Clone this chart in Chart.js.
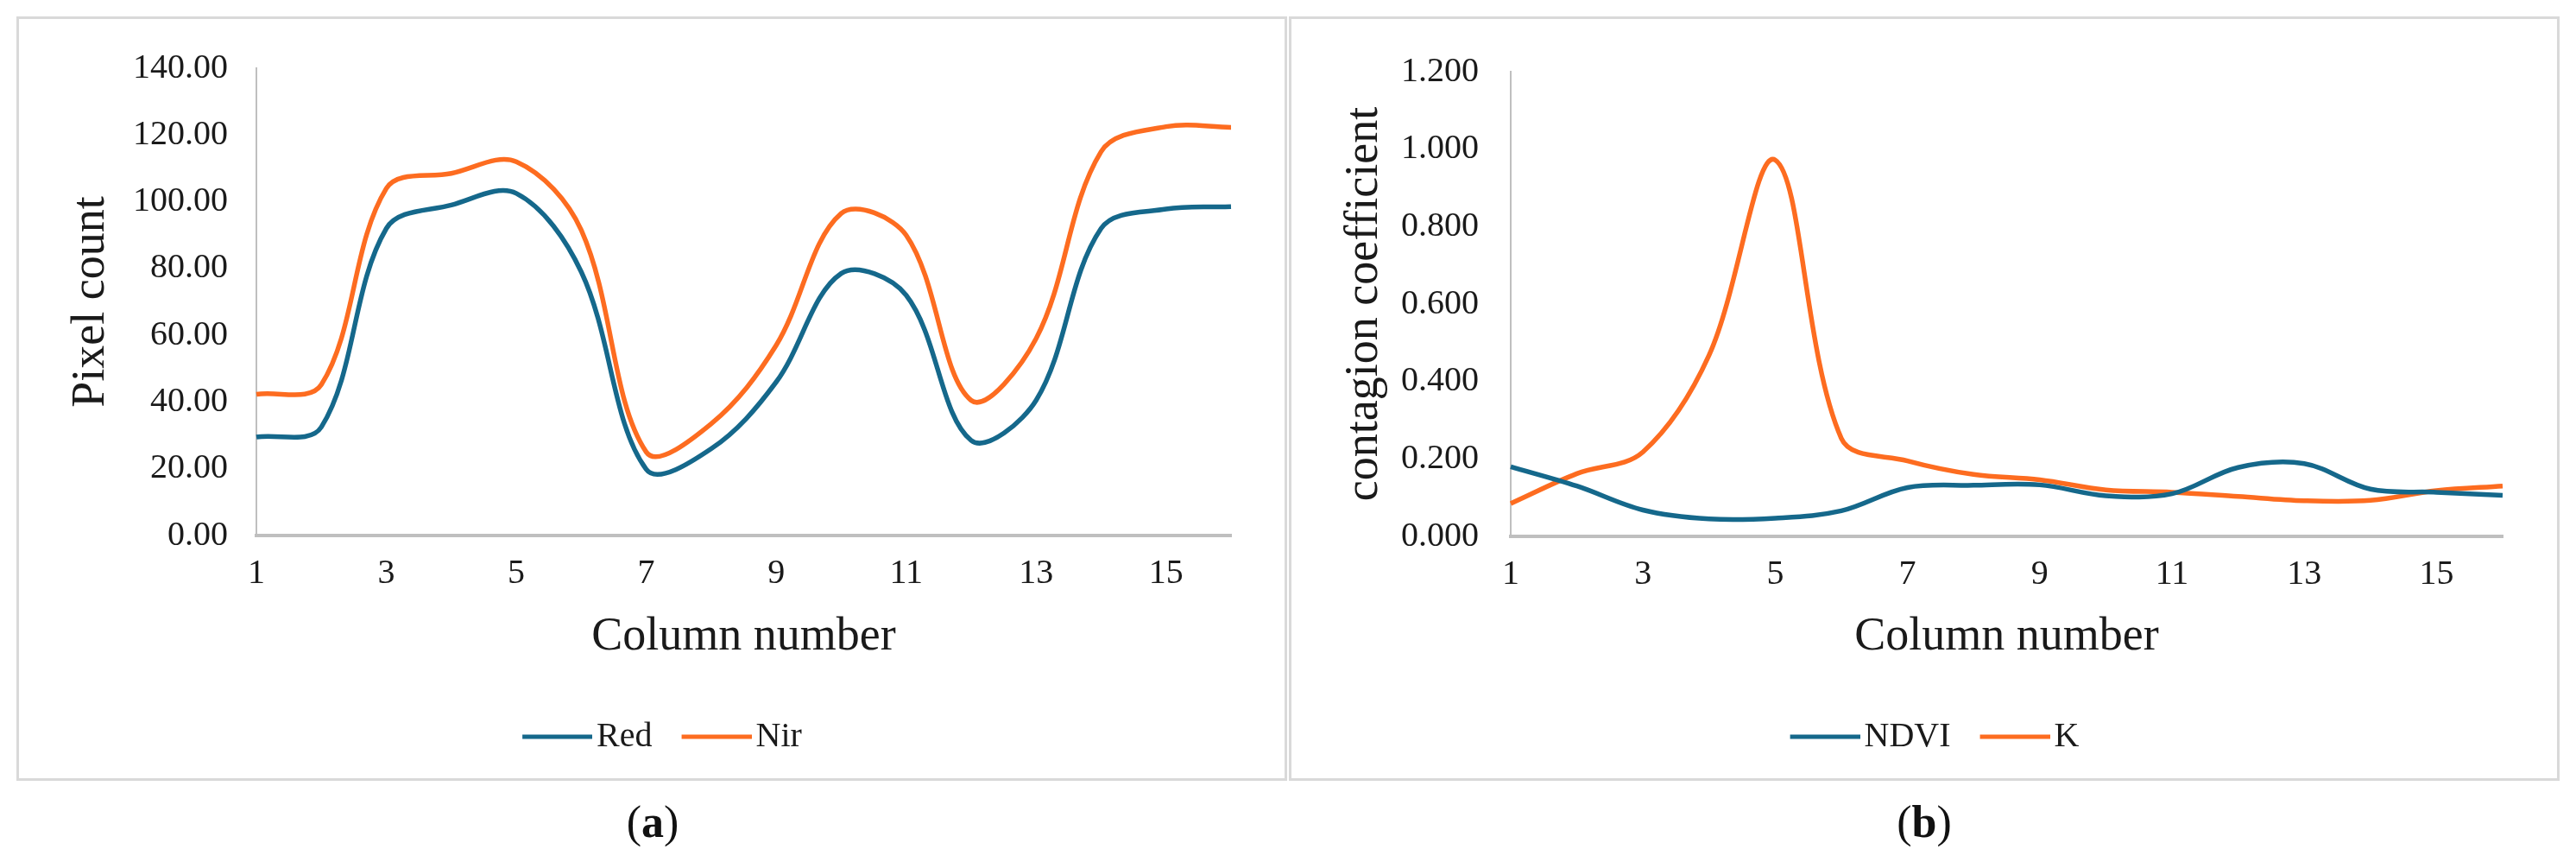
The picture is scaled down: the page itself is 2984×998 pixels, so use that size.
<!DOCTYPE html>
<html>
<head>
<meta charset="utf-8">
<title>Pixel count and contagion coefficient by column</title>
<script src="https://cdn.jsdelivr.net/npm/chart.js@4.4.1/dist/chart.umd.min.js"></script>
<style>
  body { margin: 0; background: #fff; width: 2984px; height: 998px; position: relative; overflow: hidden; font-family: "Liberation Serif", serif; }
  .panel { position: absolute; top: 19px; width: 1472px; height: 885px; border: 3px solid #d9d9d9; box-sizing: border-box; }
  .panel canvas { position: absolute; left: 0; top: 0; }
  .caption { position: absolute; top: 922px; width: 200px; text-align: center; font-size: 52px; line-height: 60px; color: #111; }
</style>
</head>
<body>
<div class="panel" style="left:19px"><canvas id="spectralChart" width="1466" height="879"></canvas></div>
<div class="panel" style="left:1493px"><canvas id="contagionChart" width="1466" height="879"></canvas></div>
<div class="caption" style="left:656px">(<b>a</b>)</div>
<div class="caption" style="left:2129px">(<b>b</b>)</div>
<script>
const columns = [1, 2, 3, 4, 5, 6, 7, 8, 9, 10, 11, 12, 13, 14, 15, 16];
const shownColumns = [1, 3, 5, 7, 9, 11, 13, 15];

const redValues = [29.5, 32.5, 92, 99, 102.5, 79, 19.8, 26, 46, 78.5, 72, 28.5, 40.5, 92, 97.8, 98.5];
const nirValues = [42.3, 45.2, 104, 108.5, 112, 91.5, 25, 33.5, 57, 96.5, 90, 40.5, 59, 115, 122.5, 122.3];
const pixelTicks = [0, 20, 40, 60, 80, 100, 120, 140];

const ndviValues = [0.180, 0.130, 0.068, 0.045, 0.047, 0.066, 0.126, 0.132, 0.133, 0.105, 0.110, 0.178, 0.188, 0.122, 0.114, 0.106];
const kValues = [0.085, 0.162, 0.218, 0.468, 0.972, 0.253, 0.195, 0.160, 0.146, 0.120, 0.114, 0.103, 0.092, 0.093, 0.118, 0.130];
const contagionTicks = [0, 0.2, 0.4, 0.6, 0.8, 1.0, 1.2];

const BLUE = '#15688b';
const ORANGE = '#fd6c20';
const TEXT = '#1a1a1a';
const AXIS = '#bfbfbf';
const FONT = '"Liberation Serif", "Times New Roman", serif';

// legend swatch: blank lead-in (spacing between items), then an 81px line
// that ends just before the label
function legendMarker(color) {
    const c = document.createElement('canvas');
    c.width = 120;
    c.height = 8;
    const g = c.getContext('2d');
    g.strokeStyle = color;
    g.lineWidth = 5;
    g.beginPath();
    g.moveTo(39, 4);
    g.lineTo(120, 4);
    g.stroke();
    return c;
}

function lineDataset(label, data, color) {
    return {
        label: label,
        data: data,
        borderColor: color,
        backgroundColor: color,
        borderWidth: 5.5,
        pointRadius: 0,
        pointStyle: legendMarker(color),
        tension: 0.35,
        fill: false
    };
}

function buildOptions(cfg) {
    return {
        responsive: false,
        animation: false,
        layout: { padding: { top: cfg.top, left: cfg.side, right: cfg.side, bottom: 18 } },
        plugins: {
            legend: {
                position: 'bottom',
                labels: {
                    usePointStyle: true,
                    pointStyleWidth: 90,
                    padding: 10,
                    color: TEXT,
                    font: { family: FONT, size: 40 }
                }
            },
            tooltip: { enabled: false }
        },
        scales: {
            x: {
                afterFit: s => { s.height = cfg.xHeight; },
                grid: { display: false, drawTicks: false },
                border: { display: true, color: AXIS, width: 4 },
                ticks: {
                    autoSkip: false,
                    maxRotation: 0,
                    padding: 20,
                    color: TEXT,
                    font: { family: FONT, size: 40 },
                    callback: (value, index) => shownColumns.includes(columns[index]) ? columns[index] : ''
                },
                title: {
                    display: true,
                    text: 'Column number',
                    color: TEXT,
                    font: { family: FONT, size: 54 },
                    padding: { top: 0, bottom: 53 }
                }
            },
            y: {
                min: cfg.ticks[0],
                max: cfg.ticks[cfg.ticks.length - 1],
                afterFit: s => { s.width = cfg.yWidth; },
                afterBuildTicks: s => { s.ticks = cfg.ticks.map(v => ({ value: v })); },
                grid: { display: false, drawTicks: false },
                border: { display: true, color: AXIS, width: 2 },
                ticks: {
                    padding: cfg.tickPad,
                    color: TEXT,
                    font: { family: FONT, size: 40 },
                    callback: value => Number(value).toFixed(cfg.decimals)
                },
                title: {
                    display: true,
                    text: cfg.yTitle,
                    color: TEXT,
                    font: { family: FONT, size: 54, lineHeight: 0.8 },
                    padding: { top: 0, bottom: 0 }
                }
            }
        }
    };
}

function renderSpectralChart() {
    new Chart(document.getElementById('spectralChart'), {
        type: 'line',
        data: {
            labels: columns,
            datasets: [
                lineDataset('Red', redValues, BLUE),
                lineDataset('Nir', nirValues, ORANGE)
            ]
        },
        options: buildOptions({
            top: 44, side: 62, yWidth: 213, xHeight: 203, tickPad: 33,
            ticks: pixelTicks, decimals: 2, yTitle: 'Pixel count'
        })
    });
}

function renderContagionChart() {
    new Chart(document.getElementById('contagionChart'), {
        type: 'line',
        data: {
            labels: columns,
            datasets: [
                lineDataset('NDVI', ndviValues, BLUE),
                lineDataset('K', kValues, ORANGE)
            ]
        },
        options: buildOptions({
            top: 43, side: 63, yWidth: 191, xHeight: 202, tickPad: 37,
            ticks: contagionTicks, decimals: 3, yTitle: 'contagion coefficient'
        })
    });
}

document.addEventListener('DOMContentLoaded', () => {
    renderSpectralChart();
    renderContagionChart();
});
</script>
</body>
</html>
